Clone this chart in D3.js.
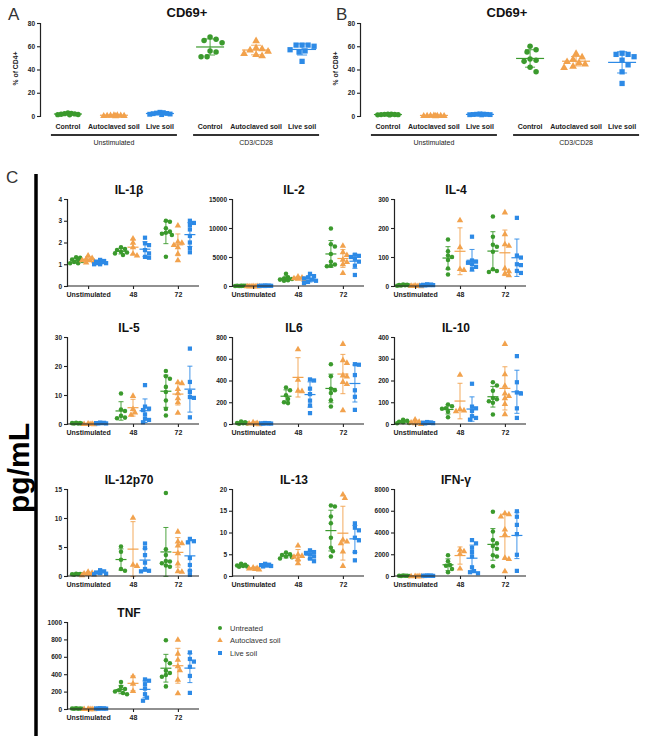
<!DOCTYPE html>
<html><head><meta charset="utf-8">
<script src="https://cdn.jsdelivr.net/npm/d3@7"></script>
<style>
body{margin:0;background:#fff}
svg{display:block}
text{font-family:Arial,"Liberation Sans",Helvetica,sans-serif}
</style>
</head><body>
<svg id="chart" width="650" height="739"></svg>
<script>
// ---------------- DATA ----------------
const treatments = ["Untreated", "Autoclaved soil", "Live soil"];
const colors = ["#3b9a2d", "#f2a24d", "#2d8ae6"];
const abCategories = ["Control", "Autoclaved soil", "Live soil"];
const abGroups = ["Unstimulated", "CD3/CD28"];
const abTicks = [0, 20, 40, 60, 80];

// Panel A: % of CD4+  [Control, Autoclaved soil, Live soil]
const cd4Unstim = [
  [2.6, 2.3, 2.0, 1.8, 1.5, 1.3, 1.1, 1.0],
  [1.0, 0.9, 0.8, 0.7, 0.6, 0.5, 0.4, 0.3],
  [3.2, 2.9, 2.5, 2.2, 2.0, 1.7, 1.5, 1.2]
];
const cd4Stim = [
  [68, 66, 65, 63, 56, 55, 51, 51],
  [65, 59, 58, 57, 56, 54, 53, 52],
  [61, 61, 60, 61, 57, 56, 55, 47]
];
// Panel B: % of CD8+
const cd8Unstim = [
  [1.6, 1.5, 1.4, 1.3, 1.2, 1.1, 1.0, 0.9],
  [0.7, 0.6, 0.6, 0.5, 0.5, 0.4, 0.4, 0.3],
  [1.8, 1.6, 1.5, 1.4, 1.3, 1.2, 1.1, 1.0]
];
const cd8Stim = [
  [60, 57, 55, 49, 48, 47, 42, 38],
  [54, 51, 49, 47, 46, 45, 43, 42],
  [54, 53, 53, 51, 48, 44, 38, 28]
];

// Panel C: cytokines (pg/mL)
const timepoints = ["Unstimulated", "48", "72"];
const cytokineNames = ["IL-1β", "IL-2", "IL-4", "IL-5", "IL6", "IL-10", "IL-12p70", "IL-13", "IFN-γ", "TNF"];
const cytokineMax = [4, 15000, 300, 30, 800, 400, 15, 20, 8000, 1000];
const cytokineTicks = [
  [0, 1, 2, 3, 4],
  [0, 5000, 10000, 15000],
  [0, 100, 200, 300],
  [0, 10, 20, 30],
  [0, 200, 400, 600, 800],
  [0, 100, 200, 300, 400],
  [0, 5, 10, 15],
  [0, 5, 10, 15, 20],
  [0, 2000, 4000, 6000, 8000],
  [0, 200, 400, 600, 800, 1000]
];
// each: [timepoint][treatment] -> values
const il1b = [
  [[1.32, 1.3, 1.22, 1.2, 1.15, 1.1, 1.05, 1.05], [1.42, 1.3, 1.25, 1.2, 1.2, 1.15, 1.1], [1.2, 1.15, 1.12, 1.1, 1.05, 1.05, 1.0, 1.0]],
  [[1.78, 1.7, 1.65, 1.58, 1.54, 1.5, 1.42], [2.2, 2.0, 1.8, 1.5, 1.42], [2.22, 1.96, 1.88, 1.65, 1.5, 1.34, 1.3]],
  [[3.0, 2.95, 2.65, 2.5, 2.45, 2.4, 2.35, 1.35], [2.8, 2.05, 2.0, 1.9, 1.8, 1.5, 1.2], [3.0, 2.9, 2.8, 2.6, 2.3, 2.0, 1.75, 1.55]]
];
const il2 = [
  [[60, 50, 40, 30, 20, 15, 10, 5], [40, 30, 20, 10, 5, 0, 0], [80, 60, 50, 40, 30, 20, 10, 5]],
  [[2100, 1500, 1300, 1200, 1100, 1000, 900], [1700, 1500, 1400, 1300, 1200], [2100, 1700, 1500, 1300, 1100, 900, 700, 500]],
  [[9900, 7200, 6800, 5500, 4200, 3700, 3500, 3400], [7000, 5900, 5400, 4600, 4200, 3800, 2300], [5400, 5200, 5000, 4700, 4200, 3500, 1900]]
];
const il4 = [
  [[5, 4, 3, 3, 2, 2, 1], [3, 2, 2, 1, 1, 0], [6, 5, 4, 3, 3, 2, 2]],
  [[160, 120, 105, 100, 90, 60, 40], [228, 135, 60, 56], [170, 88, 84, 80, 75, 66, 58]],
  [[240, 170, 142, 135, 118, 58, 52, 48], [255, 180, 145, 140, 62, 52, 44, 38], [235, 105, 98, 75, 72, 52, 45]]
];
const il5 = [
  [[0.4, 0.3, 0.3, 0.2, 0.2, 0.1], [0.3, 0.2, 0.1, 0.1, 0.0], [0.5, 0.4, 0.3, 0.3, 0.2, 0.2]],
  [[10.5, 5, 4.5, 2.8, 2.2, 2], [9.8, 5.3, 4.1, 3.3], [13.4, 6, 5.3, 4.8, 3.3, 1.8, 1.4, 0.6]],
  [[18.3, 16.5, 15.6, 12.8, 11, 8.1, 5.2, 2.9], [14.5, 14.2, 12.2, 10.7, 9, 7.6, 4], [26, 14.5, 11, 9.3, 9, 2.3]]
];
const il6 = [
  [[22, 15, 10, 8, 5, 3], [18, 12, 8, 5, 2], [9, 7, 6, 5, 4, 3]],
  [[335, 310, 265, 230, 200, 192], [690, 410, 310, 305], [410, 400, 325, 275, 215, 170, 100]],
  [[550, 440, 325, 310, 285, 218, 160], [740, 590, 565, 450, 440, 390, 370, 130], [550, 545, 450, 310, 250, 130]]
];
const il10 = [
  [[20, 15, 10, 8, 5, 3], [22, 12, 8, 5, 2], [9, 7, 6, 5, 4, 3]],
  [[90, 82, 72, 70, 56, 31], [228, 70, 64, 60], [185, 80, 72, 60, 36, 28, 20]],
  [[192, 177, 153, 120, 114, 105, 98, 44], [370, 230, 177, 142, 130, 120, 94, 47], [312, 192, 145, 140, 72, 28]]
];
const il12 = [
  [[0.4, 0.35, 0.3, 0.3, 0.25, 0.2], [0.8, 0.6, 0.5, 0.4, 0.3, 0.2], [1.0, 0.8, 0.6, 0.5, 0.4, 0.3]],
  [[5.1, 4.2, 2.8, 1.2, 0.9], [10.1, 2.0, 1.8], [5.6, 4.8, 3.6, 2.3, 1.2, 0.9, 0.8]],
  [[14.3, 4.6, 3.6, 2.6, 2.5, 2.2, 1.8, 1.6], [7.7, 6, 5.7, 5.3, 4, 2.2, 0.9, 0.8], [6.4, 6, 5.8, 3.1, 1.9, 0.9, 0.2]]
];
const il13 = [
  [[2.8, 2.6, 2.4, 2.3, 2.2, 2.1], [2.0, 1.9, 1.8, 1.7, 1.6], [2.8, 2.6, 2.5, 2.4, 2.3, 2.2]],
  [[5.4, 5, 4.8, 4.5, 4.3, 4.0], [7.1, 5, 4.7, 4.5, 4, 3], [5.9, 5.5, 5.3, 5, 4.5, 4, 3.4]],
  [[16.2, 16, 13.7, 12.1, 8.8, 6.5, 5.7, 4.5], [18.8, 18, 8.4, 8, 7.6, 5.7, 2.4], [12.1, 11.1, 10.5, 8.8, 8.2, 5.5, 3.6]]
];
const ifng = [
  [[40, 30, 20, 15, 10, 5], [30, 20, 10, 5, 0], [50, 40, 30, 20, 10, 5]],
  [[1900, 1350, 1000, 950, 650, 350], [2450, 2300, 2050, 720], [3300, 3000, 2600, 2200, 1800, 800, 450, 350, 250]],
  [[5900, 4100, 3300, 3000, 2750, 2500, 1900, 1800, 900], [5800, 5700, 5500, 4300, 3850, 1700, 1600, 470], [5950, 5450, 4700, 3850, 1950, 470]]
];
const tnf = [
  [[8, 6, 5, 4, 3, 2], [6, 4, 3, 2, 0], [9, 7, 6, 5, 4, 3]],
  [[310, 255, 230, 215, 200, 185, 170], [380, 295, 210], [340, 325, 285, 235, 170, 130, 95]],
  [[790, 560, 525, 440, 415, 390, 370, 260], [800, 640, 570, 495, 450, 340, 185], [650, 575, 545, 485, 380, 185]]
];
const cytokineData = [il1b, il2, il4, il5, il6, il10, il12, il13, ifng, tnf];

// ---------------- DRAWING ----------------
const svg = d3.select("#chart");
const ink = "#222";
const shapes = [d3.symbolCircle, d3.symbolTriangle, d3.symbolSquare];

// simple beeswarm spread, limited to +-maxOff
function swarm(vals, y, dx, minDist, maxOff) {
  const placed = [];
  const order = vals.map((v, i) => ({ v, i })).sort((a, b) => b.v - a.v);
  const res = new Array(vals.length);
  for (const o of order) {
    const py = y(o.v);
    let best = 0, bestD = -1;
    for (let k = 0; k < 60; k++) {
      const c = k === 0 ? 0 : (k % 2 ? 1 : -1) * Math.ceil(k / 2) * dx;
      if (Math.abs(c) > maxOff) break;
      const d = placed.length ? d3.min(placed, p => Math.hypot(p.x - c, p.y - py)) : Infinity;
      if (d >= minDist) { best = c; break; }
      if (d > bestD) { bestD = d; best = c; }
    }
    placed.push({ x: best, y: py });
    res[o.i] = { x: best, y: py };
  }
  return res;
}

function drawGroup(g, vals, cx, y, si, opt) {
  const col = colors[si];
  const m = d3.mean(vals), sd = d3.deviation(vals) || 0;
  const pos = swarm(vals, y, opt.dx, opt.minDist, opt.maxOff);
  g.selectAll(null).data(pos).join("path")
    .attr("d", d3.symbol(shapes[si], opt.sizes[si]))
    .attr("transform", p => `translate(${cx + p.x},${p.y + (si === 1 ? 0.5 : 0)})`)
    .attr("fill", col);
  const eb = g.append("g").attr("stroke", col).attr("fill", "none");
  eb.append("line").attr("x1", cx).attr("x2", cx).attr("y1", y(m - sd)).attr("y2", y(m + sd)).attr("stroke-width", 0.9);
  [m - sd, m + sd].forEach(v => eb.append("line")
    .attr("x1", cx - opt.cap / 2).attr("x2", cx + opt.cap / 2).attr("y1", y(v)).attr("y2", y(v)).attr("stroke-width", 0.9));
  eb.append("line").attr("x1", cx - opt.meanW / 2).attr("x2", cx + opt.meanW / 2)
    .attr("y1", y(m)).attr("y2", y(m)).attr("stroke-width", 1.2);
}

function yAxis(g, y, ticks, fs) {
  const ax = g.append("g").call(d3.axisLeft(y).tickValues(ticks).tickSize(3).tickPadding(2).tickFormat(d3.format("d")));
  ax.select(".domain").attr("stroke", ink).attr("stroke-width", 1.2);
  ax.selectAll(".tick line").attr("stroke", ink).attr("stroke-width", 1.1);
  ax.selectAll(".tick text").attr("fill", ink).attr("font-size", fs).attr("font-weight", "bold").attr("font-family", "Arial,'Liberation Sans',sans-serif");
  return ax;
}

// ---- Panels A & B ----
function drawAB(ox, letter, ylabel, unstim, stim) {
  const g = svg.append("g").attr("transform", `translate(${ox},0)`);
  const y = d3.scaleLinear().domain([0, 80]).range([116, 23]);
  const gx = d3.scalePoint().domain(abGroups).range([0, 290]).padding(0.52);
  const cx = d3.scalePoint().domain(abCategories).range([-46, 46]);
  svg.append("text").attr("x", ox - 32 + (letter === "B" ? 8 : 0)).attr("y", 20).text(letter)
    .attr("font-size", 17).attr("fill", "#333");
  g.append("text").attr("x", 147).attr("y", 17).attr("text-anchor", "middle")
    .attr("font-size", 13).attr("font-weight", "bold").attr("fill", "#111").text("CD69+");
  yAxis(g, y, abTicks, 6.5);
  g.append("text").attr("transform", `translate(-22,${y(40) - 1}) rotate(-90)`).attr("text-anchor", "middle")
    .attr("font-size", 6.8).attr("font-weight", "bold").attr("fill", ink).text(ylabel);
  const optU = { dx: 1.7, minDist: 3.4, maxOff: 12, sizes: [22, 22, 24], cap: 10, meanW: 28 };
  const optS = { dx: 3, minDist: 6, maxOff: 13, sizes: [24, 26, 28], cap: 10, meanW: 28 };
  [unstim, stim].forEach((grp, gi) => {
    const gc = gx(abGroups[gi]);
    grp.forEach((vals, si) => drawGroup(g, vals, gc + cx(abCategories[si]), y, si, gi ? optS : optU));
    abCategories.forEach(c => g.append("text").attr("x", gc + cx(c)).attr("y", 128.5)
      .attr("text-anchor", "middle").attr("font-size", 7).attr("font-weight", "bold").attr("fill", ink).text(c));
    g.append("line").attr("x1", gc - 63).attr("x2", gc + 63).attr("y1", 135).attr("y2", 135)
      .attr("stroke", "#333").attr("stroke-width", 2);
    g.append("text").attr("x", gc).attr("y", 145).attr("text-anchor", "middle")
      .attr("font-size", 7).attr("fill", ink).text(abGroups[gi]);
  });
}
drawAB(40, "A", "% of CD4+", cd4Unstim, cd4Stim);
drawAB(360, "B", "% of CD8+", cd8Unstim, cd8Stim);

// ---- Panel C ----
svg.append("text").attr("x", 6).attr("y", 183).text("C").attr("font-size", 17).attr("fill", "#333");
svg.append("line").attr("x1", 36).attr("x2", 36).attr("y1", 174).attr("y2", 736).attr("stroke", "#000").attr("stroke-width", 3.5);
svg.append("text").attr("transform", "translate(29,468) rotate(-90)").attr("text-anchor", "middle")
  .attr("font-size", 30).attr("font-weight", "bold").attr("fill", "#000").text("pg/mL");

const colX = [67, 232, 394];
const rowTop = [199, 337, 489, 622];
const plotH = 87, plotW = 132;

cytokineNames.forEach((name, i) => {
  const col = i % 3, row = Math.floor(i / 3);
  const g = svg.append("g").attr("transform", `translate(${colX[col]},${rowTop[row]})`);
  const y = d3.scaleLinear().domain([0, cytokineMax[i]]).range([plotH, 0]);
  const x = d3.scalePoint().domain(timepoints).range([0, plotW]).padding(0.47);
  const off = d3.scalePoint().domain(treatments).range([-12, 12]);
  g.append("text").attr("x", 62).attr("y", -5).attr("text-anchor", "middle")
    .attr("font-size", 12).attr("font-weight", "bold").attr("fill", "#111").text(name);
  yAxis(g, y, cytokineTicks[i], 6.5);
  const opt = { dx: 2, minDist: 4, maxOff: 6, sizes: [16, 18, 18], cap: 5, meanW: 11 };
  cytokineData[i].forEach((tp, ti) => {
    tp.forEach((vals, si) => drawGroup(g, vals, x(timepoints[ti]) + off(treatments[si]), y, si, opt));
  });
  const xa = g.append("g").attr("transform", `translate(0,${plotH})`)
    .call(d3.axisBottom(x).tickSize(3).tickPadding(3));
  xa.select(".domain").attr("stroke", ink).attr("stroke-width", 1.2).attr("d", `M0,0H${plotW}`);
  xa.selectAll(".tick line").attr("stroke", ink).attr("stroke-width", 1.1);
  xa.selectAll(".tick text").attr("fill", ink).attr("font-size", 7).attr("font-weight", "bold")
    .attr("font-family", "Arial,'Liberation Sans',sans-serif");
});

// legend
const leg = svg.append("g").attr("transform", "translate(220,628)");
treatments.forEach((t, i) => {
  const r = leg.append("g").attr("transform", `translate(0,${i * 12.5})`);
  r.append("path").attr("d", d3.symbol(shapes[i], i === 2 ? 16 : 13)).attr("fill", colors[i]);
  r.append("text").attr("x", 10).attr("y", 2.5).attr("font-size", 7.5).attr("fill", "#333").text(t);
});
</script>
</body></html>
